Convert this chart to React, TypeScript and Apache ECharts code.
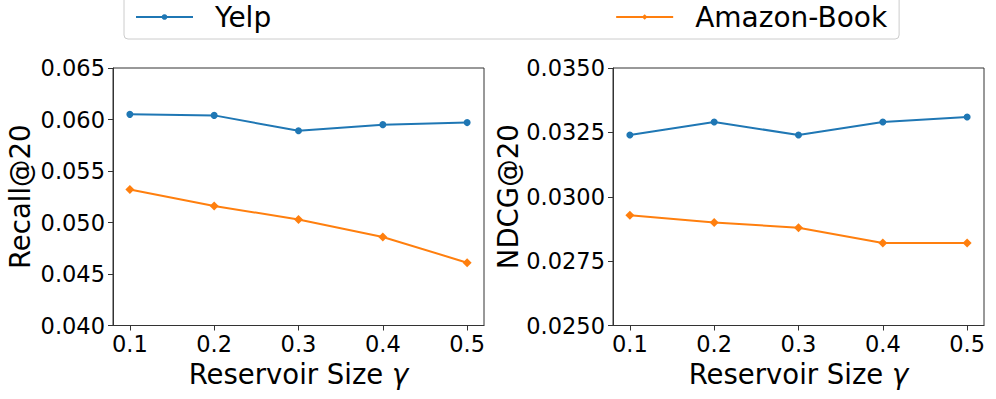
import React, { useEffect, useRef } from "react";
import * as echarts from "echarts";

const xValues = [0.1, 0.2, 0.3, 0.4, 0.5];
const xTicks = [0.1, 0.2, 0.3, 0.4, 0.5];
const recallYelp = [0.0605, 0.0604, 0.0589, 0.0595, 0.0597];
const recallAmazon = [0.0532, 0.0516, 0.0503, 0.0486, 0.0461];
const ndcgYelp = [0.0324, 0.0329, 0.0324, 0.0329, 0.0331];
const ndcgAmazon = [0.02928, 0.0290, 0.0288, 0.0282, 0.0282];
const seriesNames = ["Yelp", "Amazon-Book"];

const FONT = "DejaVu Sans";
const BLUE = "#1f77b4";
const ORANGE = "#ff7f0e";

export default function App() {
  const ref = useRef<HTMLDivElement>(null);
  useEffect(() => {
    if (!ref.current) return;
    const chart = echarts.init(ref.current, null, { renderer: "svg" });
    const pair = (vals: number[]) => xValues.map((x, i) => [x, vals[i]]);
    const xAxisCommon = (gridIndex: number) => ({
      type: "value",
      gridIndex,
      min: 0.08,
      max: 0.52,
      name: "Reservoir Size {i|γ}",
      nameLocation: "middle",
      nameGap: 31,
      nameTextStyle: {
        fontFamily: FONT,
        fontSize: 27.5,
        color: "#000",
        verticalAlign: "top",
        rich: { i: { fontStyle: "italic", fontFamily: FONT, fontSize: 27.5, color: "#000" } },
      },
      splitLine: { show: false },
      axisLine: { show: true, lineStyle: { color: "#333", width: 1 } },
      axisTick: {
        show: true,
        length: 5,
        customValues: xTicks,
        lineStyle: { color: "#333", width: 1 },
      },
      axisLabel: {
        customValues: xTicks,
        fontFamily: FONT,
        fontSize: 22.5,
        color: "#000",
        margin: 7,
        formatter: (v: number) => v.toFixed(1),
      },
    });
    const yAxisCommon = (
      gridIndex: number,
      name: string,
      min: number,
      max: number,
      interval: number,
      digits: number,
      nameGap: number
    ) => ({
      type: "value",
      gridIndex,
      min,
      max,
      interval,
      name,
      nameLocation: "middle",
      nameRotate: 90,
      nameGap,
      nameTextStyle: { fontFamily: FONT, fontSize: 27.5, color: "#000" },
      splitLine: { show: false },
      axisLine: { show: true, lineStyle: { color: "#333", width: 1 } },
      axisTick: { show: true, length: 5, lineStyle: { color: "#333", width: 1 } },
      axisLabel: {
        fontFamily: FONT,
        fontSize: 22.5,
        color: "#000",
        margin: 8,
        formatter: (v: number) => v.toFixed(digits),
      },
    });
    const lineSeries = (
      name: string,
      data: number[],
      idx: number,
      color: string,
      symbol: string,
      size: number
    ) => ({
      type: "line",
      name,
      xAxisIndex: idx,
      yAxisIndex: idx,
      data: pair(data),
      symbol,
      symbolSize: size,
      showSymbol: true,
      lineStyle: { color, width: 2 },
      itemStyle: { color },
      emphasis: { disabled: true },
    });
    chart.setOption({
      animation: false,
      backgroundColor: "#fff",
      textStyle: { fontFamily: FONT },
      legend: {
        data: seriesNames,
        left: 124,
        top: -8,
        padding: [10, 12, 7, 11],
        itemGap: 344,
        itemWidth: 57,
        itemHeight: 7,
        borderColor: "#cccccc",
        borderWidth: 1,
        borderRadius: 4,
        textStyle: {
          fontFamily: FONT,
          fontSize: 28,
          color: "#000",
          lineHeight: 30,
          padding: [0, 0, 0, 17],
        },
      },
      grid: [
        {
          left: 113,
          top: 68,
          width: 371,
          height: 257.5,
          show: true,
          borderColor: "#333",
          borderWidth: 1,
          backgroundColor: "transparent",
        },
        {
          left: 613,
          top: 68,
          width: 371,
          height: 257.5,
          show: true,
          borderColor: "#333",
          borderWidth: 1,
          backgroundColor: "transparent",
        },
      ],
      xAxis: [xAxisCommon(0), xAxisCommon(1)],
      yAxis: [
        yAxisCommon(0, "Recall@20", 0.04, 0.065, 0.005, 3, 79),
        yAxisCommon(1, "NDCG@20", 0.025, 0.035, 0.0025, 4, 88),
      ],
      series: [
        lineSeries(seriesNames[0], recallYelp, 0, BLUE, "circle", 7),
        lineSeries(seriesNames[1], recallAmazon, 0, ORANGE, "diamond", 9),
        lineSeries(seriesNames[0], ndcgYelp, 1, BLUE, "circle", 7),
        lineSeries(seriesNames[1], ndcgAmazon, 1, ORANGE, "diamond", 9),
      ],
    });
    return () => chart.dispose();
  }, []);
  return (
    <div
      ref={ref}
      style={{ position: "fixed", left: 0, top: 0, width: 996, height: 399, background: "#fff" }}
    />
  );
}
